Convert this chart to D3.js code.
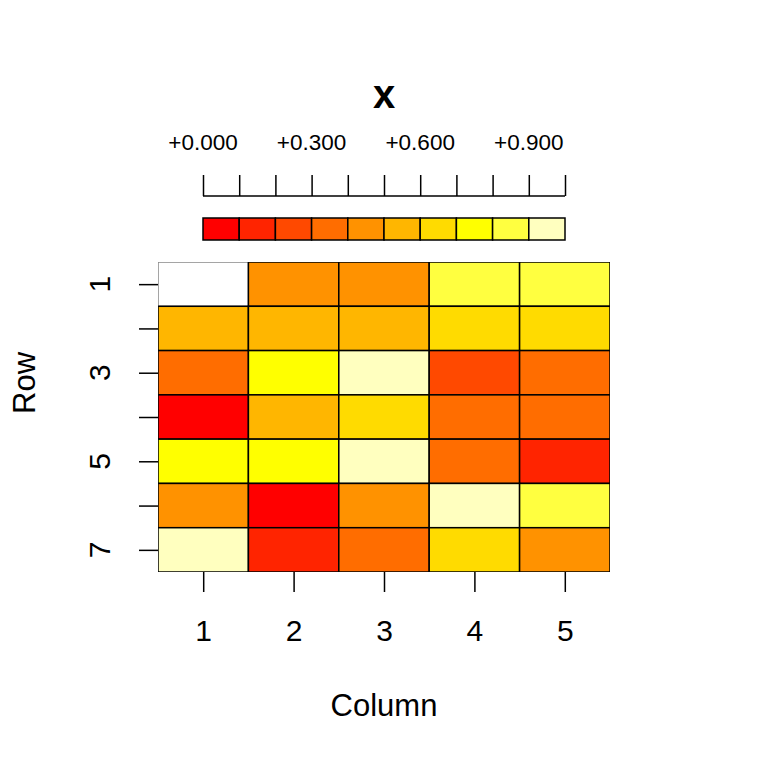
<!DOCTYPE html>
<html><head><meta charset="utf-8">
<script src="https://cdn.jsdelivr.net/npm/d3@7"></script>
<style>body{margin:0;background:#fff}svg text{font-family:"Liberation Sans",Arial,sans-serif}</style>
</head><body>
<svg id="c" width="768" height="768"></svg>
<script>
const rows = [1,2,3,4,5,6,7];
const cols = [1,2,3,4,5];
// values per row (null = missing, drawn white)
const row1 = [null, 0.45, 0.45, 0.85, 0.85];
const row2 = [0.55, 0.55, 0.55, 0.65, 0.65];
const row3 = [0.35, 0.75, 0.95, 0.25, 0.35];
const row4 = [0.05, 0.55, 0.65, 0.35, 0.35];
const row5 = [0.75, 0.75, 0.95, 0.35, 0.15];
const row6 = [0.45, 0.05, 0.45, 0.95, 0.85];
const row7 = [0.95, 0.15, 0.35, 0.65, 0.45];
const values = [row1,row2,row3,row4,row5,row6,row7];
const breaks = [0,0.1,0.2,0.3,0.4,0.5,0.6,0.7,0.8,0.9,1.0];
const palette = ["#FF0000","#FF2400","#FF4900","#FF6D00","#FF9200","#FFB600","#FFDB00","#FFFF00","#FFFF40","#FFFFBF"];
const keyLabels = [0, 0.3, 0.6, 0.9];
const title = "x", xLabel = "Column", yLabel = "Row";

const svg = d3.select("#c");
const x = d3.scaleLinear().domain([0.5, 5.5]).range([158, 610]);
const y = d3.scaleLinear().domain([0.5, 7.5]).range([262, 572]);
const color = d3.scaleThreshold().domain(breaks.slice(1,-1)).range(palette);

svg.append("defs").append("clipPath").attr("id","pc").append("rect")
  .attr("x",158).attr("y",262).attr("width",452).attr("height",310);

const cells = [];
values.forEach((r,i)=>r.forEach((v,j)=>cells.push({r:rows[i],c:cols[j],v})));
const g = svg.append("g").attr("clip-path","url(#pc)");
g.selectAll("rect.na").data(cells.filter(d=>d.v===null)).join("rect")
  .attr("x",d=>x(d.c-0.5)).attr("y",d=>y(d.r-0.5))
  .attr("width",x(1.5)-x(0.5)).attr("height",y(1.5)-y(0.5))
  .attr("fill","#fff").attr("stroke","#888").attr("stroke-width",1.5);
g.selectAll("rect.cell").data(cells.filter(d=>d.v!==null)).join("rect")
  .attr("x",d=>x(d.c-0.5)).attr("y",d=>y(d.r-0.5))
  .attr("width",x(1.5)-x(0.5)).attr("height",y(1.5)-y(0.5))
  .attr("fill",d=>color(d.v)).attr("stroke","#000").attr("stroke-width",1.5);

// x axis
const xa = svg.append("g").attr("transform","translate(0,572)")
  .call(d3.axisBottom(x).tickValues(cols).tickSize(20).tickPadding(28).tickFormat(d3.format("d")));
xa.select(".domain").remove();
xa.selectAll("line").attr("stroke","#000").attr("stroke-width",1.5);
xa.selectAll("text").attr("font-size",30).attr("fill","#000");

// y axis
const ya = svg.append("g").attr("transform","translate(158,0)")
  .call(d3.axisLeft(y).tickValues(rows).tickSize(19).tickFormat(""));
ya.select(".domain").remove();
ya.selectAll("line").attr("stroke","#000").attr("stroke-width",1.5);
svg.selectAll("text.yl").data(rows.filter(r=>r%2===1)).join("text")
  .attr("transform",d=>`translate(110,${y(d)}) rotate(-90)`)
  .attr("text-anchor","middle").attr("font-size",30).text(d=>d);

// key
const k = d3.scaleLinear().domain([0,1]).range([203,565]);
svg.append("g").selectAll("rect").data(palette).join("rect")
  .attr("x",(d,i)=>k(breaks[i])).attr("y",218)
  .attr("width",(d,i)=>k(breaks[i+1])-k(breaks[i])).attr("height",22)
  .attr("fill",d=>d).attr("stroke","#000").attr("stroke-width",1.5);
const ka = svg.append("g").attr("transform","translate(0,196)")
  .call(d3.axisTop(k).tickValues(breaks).tickSize(21).tickSizeOuter(0).tickFormat(""));
ka.select(".domain").attr("stroke","#000").attr("stroke-width",1.5).attr("d",`M${k(0)},0H${k(1)}`);
ka.selectAll("line").attr("stroke","#000").attr("stroke-width",1.5);
svg.selectAll("text.kl").data(keyLabels).join("text")
  .attr("x",d=>k(d)).attr("y",150).attr("text-anchor","middle").attr("font-size",22.5)
  .text(d=>"+"+d3.format(".3f")(d));

svg.append("text").attr("x",384).attr("y",108).attr("text-anchor","middle")
  .attr("font-size",40).attr("font-weight","bold").text(title);
svg.append("text").attr("x",384).attr("y",716).attr("text-anchor","middle")
  .attr("font-size",31).text(xLabel);
svg.append("text").attr("transform","translate(35,383) rotate(-90)")
  .attr("text-anchor","middle").attr("font-size",31).text(yLabel);
</script>
</body></html>
